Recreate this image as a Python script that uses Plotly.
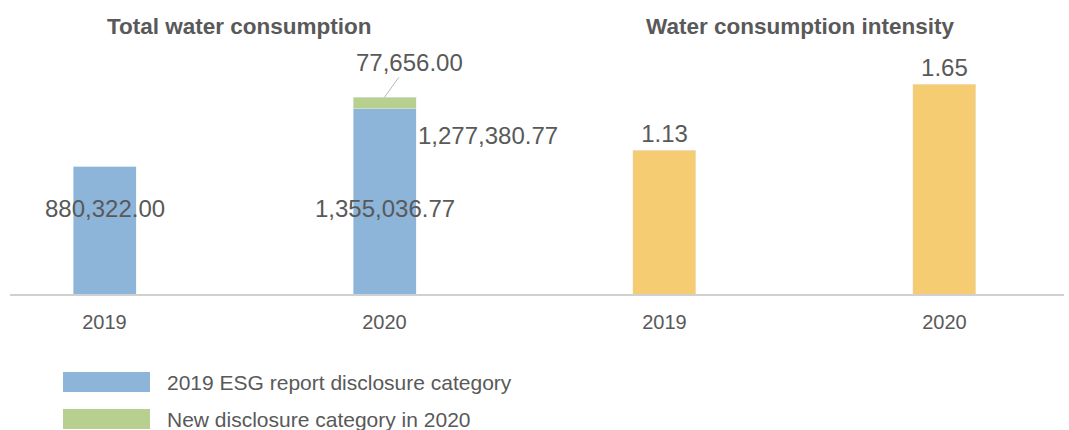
import plotly.graph_objects as go

# ---- data ----
years = ["2019", "2020"]
existing_category = [880322.00, 1277380.77]   # 2019 ESG report disclosure category
new_category = [0.0, 77656.00]                # New disclosure category in 2020
intensity = [1.13, 1.65]
series_names = ["2019 ESG report disclosure category", "New disclosure category in 2020"]
titles = ["Total water consumption", "Water consumption intensity"]

totals = [a + b for a, b in zip(existing_category, new_category)]

BLUE = "#8DB4D9"
GREEN = "#B7D08F"
YELLOW = "#F5CC72"
TXT = "#595959"
FONT = "Liberation Sans, Arial, sans-serif"

W, H = 1069, 430
def px(x):
    return x / W
def py(y):
    return (H - y) / H

fig = go.Figure()
fig.add_trace(go.Bar(x=years, y=existing_category, name=series_names[0], marker_color=BLUE,
                     width=0.225, xaxis="x", yaxis="y", showlegend=False))
fig.add_trace(go.Bar(x=years, y=new_category, name=series_names[1], marker_color=GREEN,
                     width=0.225, xaxis="x", yaxis="y", showlegend=False))
fig.add_trace(go.Bar(x=years, y=intensity, name="Water consumption intensity", marker_color=YELLOW,
                     width=0.225, xaxis="x2", yaxis="y2", showlegend=False,
                     text=[f"{v:.2f}" for v in intensity], textposition="outside",
                     textfont=dict(size=24, color=TXT, family=FONT), cliponaxis=False))

base_y, top_y = 294, 60
ydom = [py(base_y), py(top_y)]
split = 524.5
axis_common = dict(showline=True, linecolor="#D0D0D0", linewidth=2, ticks="",
                   showgrid=False, zeroline=False, type="category",
                   tickfont=dict(size=20, color=TXT, family=FONT), ticklabelstandoff=9)

annotations = []
# titles
for t, cx in zip(titles, [239, 800]):
    annotations.append(dict(text=t, x=px(cx), y=py(26), xref="paper", yref="paper",
                            showarrow=False, font=dict(size=22.5, color=TXT, family=FONT, weight="bold"),
                            xanchor="center", yanchor="middle"))

def lab_font():
    return dict(size=24, color=TXT, family=FONT)

label_frac = (base_y - 208) / (base_y - top_y)
# total labels (placed at a common height in each bar)
for i in range(len(years)):
    annotations.append(dict(text=f"{totals[i]:,.2f}", x=i, y=label_frac,
                            xref="x", yref="y domain", showarrow=False, font=lab_font(),
                            xanchor="center", yanchor="middle"))
# 2020 existing-category label to the right of the bar
annotations.append(dict(text=f"{existing_category[1]:,.2f}", x=1, y=(base_y - 135) / (base_y - top_y),
                        xref="x", yref="y domain", showarrow=False, font=lab_font(),
                        xanchor="left", yanchor="middle", xshift=31))
# 2020 new-category label with leader line
annotations.append(dict(text=f"{new_category[1]:,.2f}", x=1, y=totals[1],
                        xref="x", yref="y", showarrow=True, arrowhead=0, arrowwidth=0.8,
                        arrowcolor="#A6A6A6", ax=25, ay=-35, standoff=0, font=lab_font()))
# legend
shapes = []
leg = [(series_names[0], BLUE, 372, 392), (series_names[1], GREEN, 409, 429)]
for name, col, y0, y1 in leg:
    shapes.append(dict(type="rect", xref="paper", yref="paper", x0=px(63), x1=px(150),
                       y0=py(y1), y1=py(y0), fillcolor=col, line=dict(width=0)))
    annotations.append(dict(text=name, x=px(165), y=py((y0 + y1) / 2), xref="paper", yref="paper",
                            showarrow=False, xanchor="left", yanchor="middle",
                            font=dict(size=21, color=TXT, family=FONT)))

fig.update_layout(
    width=W, height=H, margin=dict(l=0, r=0, t=0, b=0, pad=0),
    paper_bgcolor="white", plot_bgcolor="white", barmode="stack",
    font=dict(family=FONT, color=TXT),
    xaxis=dict(domain=[px(10), px(split)], range=[-0.3375, 1.5], anchor="y", **axis_common),
    xaxis2=dict(domain=[px(split), px(1064)], range=[-0.5, 1.427], anchor="y2", **axis_common),
    yaxis=dict(domain=ydom, range=[0, 1612000], visible=False, anchor="x"),
    yaxis2=dict(domain=ydom, range=[0, 1.84], visible=False, anchor="x2"),
    annotations=annotations, shapes=shapes, showlegend=False,
)

fig.write_html("out.html", config={"displayModeBar": False},
               post_script="document.body.style.margin='0';")
